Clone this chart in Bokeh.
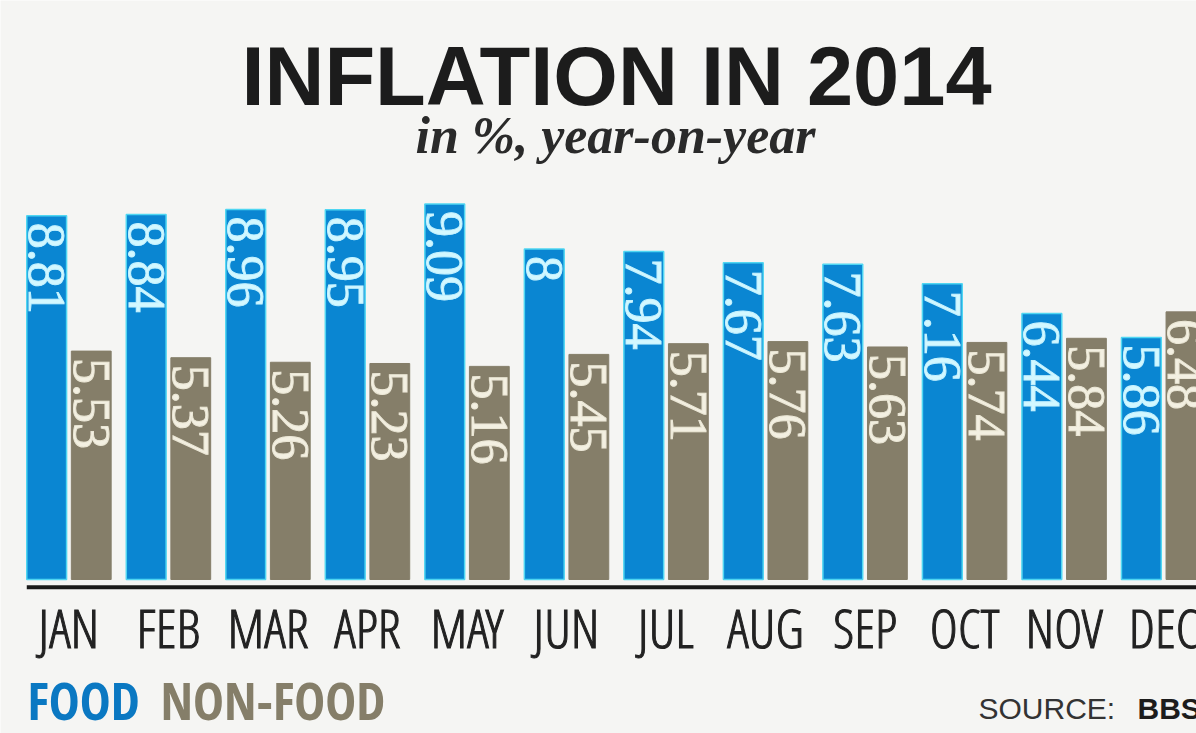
import math
from bokeh.plotting import figure
from bokeh.models import Range1d, Label
from bokeh.core.properties import value
from bokeh.embed import file_html
from bokeh.resources import INLINE

months = ["JAN", "FEB", "MAR", "APR", "MAY", "JUN", "JUL", "AUG", "SEP", "OCT", "NOV", "DEC"]
food = [8.81, 8.84, 8.96, 8.95, 9.09, 8, 7.94, 7.67, 7.63, 7.16, 6.44, 5.86]
non_food = [5.53, 5.37, 5.26, 5.23, 5.16, 5.45, 5.71, 5.76, 5.63, 5.74, 5.84, 6.48]

BLUE = "#0a86d2"
GREY = "#857e69"
BG = "#f5f5f3"
COND = "Open Sans Condensed"
COND_LIGHT = "Open Sans Condensed Light"

X0, X1 = -0.688, 11.33
Y0, Y1 = -3.729, 14.019

p = figure(width=1196, height=733, output_backend="svg", toolbar_location=None,
           x_range=Range1d(X0, X1), y_range=Range1d(Y0, Y1),
           x_axis_location=None, y_axis_location=None, min_border=0, tools="")
p.grid.visible = False
p.outline_line_color = None
p.background_fill_color = BG
p.border_fill_color = BG

idx = list(range(len(months)))
off, w = 0.224, 0.40
xf = [i - off for i in idx]
xn = [i + off for i in idx]

p.vbar(x=xf, top=food, bottom=0, width=w, fill_color=BLUE, line_color="#4fd6f2", line_width=1.5)
p.vbar(x=xn, top=non_food, bottom=0, width=w, fill_color=GREY, line_color=GREY, line_width=1)

pad = 0.17
p.text(x=xf, y=[v - pad for v in food], text=[f"{v:g}" for v in food], angle=-math.pi / 2,
       text_align="left", text_baseline="middle", text_font=value("Liberation Serif"),
       text_font_size="52px", text_color="#d3f8ff", text_outline_color="#c4f2ff")
p.text(x=xn, y=[v - pad for v in non_food], text=[f"{v:g}" for v in non_food], angle=-math.pi / 2,
       text_align="left", text_baseline="middle", text_font=value("Liberation Serif"),
       text_font_size="52px", text_color="#f3f0e2", text_outline_color="#ebe7d6")

# baseline
p.segment(x0=[xf[0] - w / 2], y0=[-0.19], x1=[X1], y1=[-0.19], line_width=4, line_color="#1a1a1a")

# month labels
p.text(x=idx, y=[-1.162] * len(idx), text=months, text_align="center", text_baseline="alphabetic",
       text_font=value(COND_LIGHT), text_font_size="54px", text_color="#222222",
       text_outline_color="#222222")

# title and subtitle
p.add_layout(Label(x=616, y=657, x_units="screen", y_units="screen", text="INFLATION IN 2014",
                   text_align="center", text_baseline="alphabetic", text_font="Liberation Sans",
                   text_font_style="bold", text_font_size="83px", text_color="#1c1c1c"))
p.add_layout(Label(x=615, y=598, x_units="screen", y_units="screen", text="in %, year-on-year",
                   text_align="center", text_baseline="alphabetic", text_font="Liberation Serif",
                   text_font_style="bold italic", text_font_size="52px", text_color="#2a2a2a"))

# legend
p.add_layout(Label(x=27, y=34, x_units="screen", y_units="screen", text="FOOD",
                   text_align="left", text_baseline="alphabetic", text_font=COND,
                   text_font_style="bold", text_font_size="52px", text_color="#0a78c2"))
p.add_layout(Label(x=160, y=34, x_units="screen", y_units="screen", text="NON-FOOD",
                   text_align="left", text_baseline="alphabetic", text_font=COND,
                   text_font_style="bold", text_font_size="52px", text_color=GREY))

# source
p.add_layout(Label(x=978, y=25, x_units="screen", y_units="screen", text="SOURCE:",
                   text_align="left", text_baseline="alphabetic", text_font="Liberation Sans",
                   text_font_size="30px", text_color="#333333"))
p.add_layout(Label(x=1137, y=25, x_units="screen", y_units="screen", text="BBS",
                   text_align="left", text_baseline="alphabetic", text_font="Liberation Sans",
                   text_font_style="bold", text_font_size="30px", text_color="#1c1c1c"))

open("out.html", "w").write(file_html(p, INLINE))
